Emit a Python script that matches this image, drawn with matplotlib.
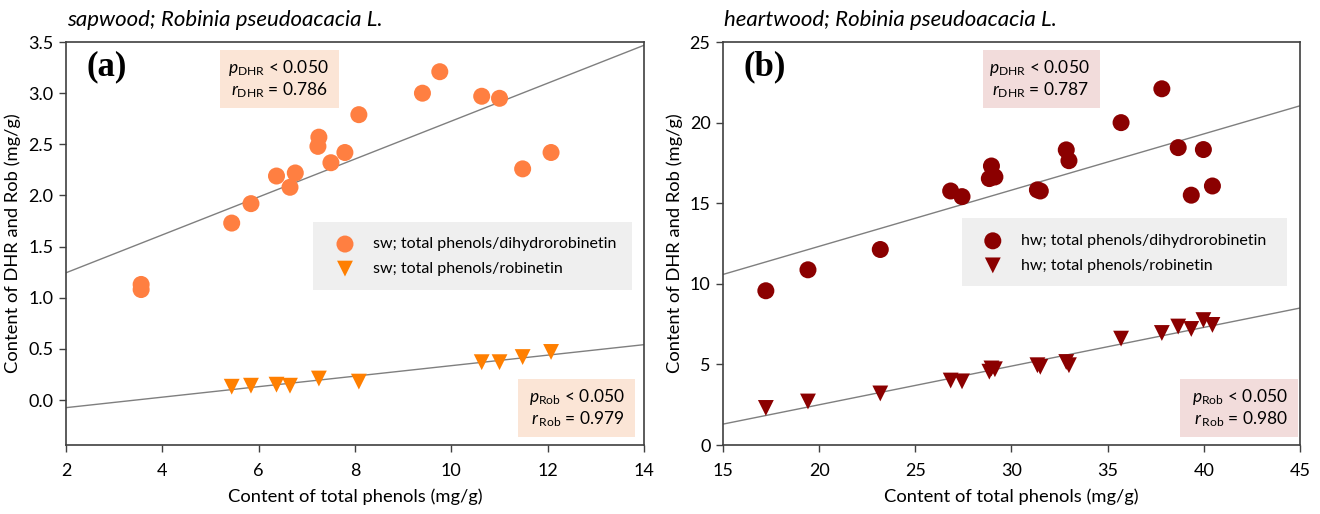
import numpy as np
import matplotlib
matplotlib.use("Agg")
import matplotlib.pyplot as plt
from matplotlib.patches import Rectangle

plt.rcParams["font.family"] = ["Lato", "DejaVu Sans"]
plt.rcParams["mathtext.fontset"] = "custom"
plt.rcParams["mathtext.rm"] = "Lato"
plt.rcParams["mathtext.it"] = "Lato:italic"

# ---- data ----
sw_phenols_dhr = [3.56, 3.56, 5.44, 5.84, 6.37, 6.65, 6.76, 7.23, 7.25, 7.50, 7.79, 8.08,
                  9.40, 9.76, 10.63, 11.00, 11.48, 12.07]
sw_dhr = [1.13, 1.08, 1.73, 1.92, 2.19, 2.08, 2.22, 2.48, 2.57, 2.32, 2.42, 2.79,
          3.00, 3.21, 2.97, 2.95, 2.26, 2.42]
sw_phenols_rob = [5.44, 5.84, 6.37, 6.65, 7.25, 8.08, 10.63, 11.00, 11.48, 12.07]
sw_rob = [0.13, 0.14, 0.15, 0.14, 0.21, 0.18, 0.37, 0.37, 0.42, 0.47]

hw_phenols = [17.23, 19.42, 23.18, 26.84, 27.43, 28.85, 28.96, 29.14, 31.35, 31.50,
              32.85, 32.99, 35.70, 37.82, 38.67, 39.35, 39.98, 40.45]
hw_dhr = [9.57, 10.87, 12.13, 15.76, 15.41, 16.53, 17.31, 16.63, 15.83, 15.76,
          18.31, 17.64, 20.00, 22.10, 18.45, 15.50, 18.33, 16.07]
hw_rob = [2.30, 2.70, 3.20, 4.00, 3.95, 4.55, 4.75, 4.70, 4.95, 4.85,
          5.15, 4.95, 6.60, 6.95, 7.35, 7.20, 7.75, 7.45]

stats_sw = {"DHR": ("< 0.050", "0.786"), "Rob": ("< 0.050", "0.979")}
stats_hw = {"DHR": ("< 0.050", "0.787"), "Rob": ("< 0.050", "0.980")}

C_SW_DHR = "#ff7f41"
C_SW_ROB = "#ff7f00"
C_HW = "#8b0000"
BOX_SW = "#fbe5d6"
BOX_HW = "#f2dcdb"
LEG_BG = "#efefef"
FS = 13.2      # axis labels
FS_TICK = 13
FS_BOX = 12.5
FS_LEG = 11.5
FS_TITLE = 16

fig = plt.figure(figsize=(13.2, 5.14), dpi=100)
ax1 = fig.add_axes([0.05, 0.1342, 0.4379, 0.784])
ax2 = fig.add_axes([0.5477, 0.1342, 0.4371, 0.784])


def fit_line(ax, x, y, xlim):
    k, b = np.polyfit(x, y, 1)
    xx = np.array(xlim)
    ax.plot(xx, k * xx + b, color="#7f7f7f", lw=1.0, zorder=1)


def stat_box(ax, x0, y0, x1, y1, color, key, p, r):
    ax.add_patch(Rectangle((x0, y0), x1 - x0, y1 - y0, transform=ax.transAxes,
                           facecolor=color, edgecolor="none", zorder=0.5))
    gap = r"\," if key == "Rob" else ""
    txt = (r"$p_{\mathrm{%s}}$ %s" % (key, p) + "\n" +
           r"$r_{%s\mathrm{%s}}$ = %s" % (gap, key, r))
    ax.text(x1 - 0.03 * (x1 - x0) - 0.012, (y0 + y1) / 2, txt, transform=ax.transAxes,
            ha="right", va="center", multialignment="right", fontsize=FS_BOX,
            linespacing=1.15, zorder=3)


def style(ax, xlim, ylim, xticks, yticks, fmt):
    ax.set_xlim(xlim)
    ax.set_ylim(ylim)
    ax.set_xticks(xticks)
    ax.set_yticks(yticks)
    ax.set_yticklabels([fmt.format(v) for v in yticks])
    ax.tick_params(direction="out", length=5, width=1, labelsize=FS_TICK, color="#404040", pad=4)
    ax.tick_params(axis="x", pad=8)
    for s in ax.spines.values():
        s.set_color("#404040")
        s.set_linewidth(1.2)
    ax.set_xlabel("Content of total phenols (mg/g)", fontsize=FS, labelpad=7)
    ax.set_ylabel("Content of DHR and Rob (mg/g)", fontsize=FS, labelpad=5)


def legend_panel(ax, x0, y0, w, h, anchor):
    ax.add_patch(Rectangle((x0, y0), w, h, transform=ax.transAxes,
                           facecolor=LEG_BG, edgecolor="none", zorder=0.5))
    ax.legend(loc="center left", bbox_to_anchor=anchor, frameon=False, fontsize=FS_LEG,
              handletextpad=0.75, labelspacing=0.65, borderpad=0, borderaxespad=0)


# ---- (a) sapwood ----
xl1 = (2, 14)
fit_line(ax1, sw_phenols_dhr, sw_dhr, xl1)
fit_line(ax1, sw_phenols_rob, sw_rob, xl1)
ax1.scatter(sw_phenols_dhr, sw_dhr, s=150, marker="o", color=C_SW_DHR, edgecolors="none",
            zorder=3, label="sw; total phenols/dihydrorobinetin")
ax1.scatter(sw_phenols_rob, sw_rob, s=130, marker="v", color=C_SW_ROB, edgecolors="none",
            zorder=3, label="sw; total phenols/robinetin")
style(ax1, xl1, (-0.44, 3.5), np.arange(2, 15, 2), np.arange(0, 3.51, 0.5), "{:.1f}")
stat_box(ax1, 0.266, 0.836, 0.472, 0.980, BOX_SW, "DHR", *stats_sw["DHR"])
stat_box(ax1, 0.782, 0.020, 0.984, 0.164, BOX_SW, "Rob", *stats_sw["Rob"])
legend_panel(ax1, 0.427, 0.385, 0.552, 0.168, (0.455, 0.468))
ax1.text(0.035, 0.98, "(a)", transform=ax1.transAxes, ha="left", va="top",
         family="Liberation Serif", weight="bold", fontsize=25)
ax1.text(0.002, 1.03, "sapwood; Robinia pseudoacacia L.", transform=ax1.transAxes,
         ha="left", va="bottom", style="italic", fontsize=FS_TITLE)

# ---- (b) heartwood ----
xl2 = (15, 45)
fit_line(ax2, hw_phenols, hw_dhr, xl2)
fit_line(ax2, hw_phenols, hw_rob, xl2)
ax2.scatter(hw_phenols, hw_dhr, s=150, marker="o", color=C_HW, edgecolors="none",
            zorder=3, label="hw; total phenols/dihydrorobinetin")
ax2.scatter(hw_phenols, hw_rob, s=130, marker="v", color=C_HW, edgecolors="none",
            zorder=3, label="hw; total phenols/robinetin")
style(ax2, xl2, (0, 25), np.arange(15, 46, 5), np.arange(0, 26, 5), "{:.0f}")
stat_box(ax2, 0.451, 0.836, 0.653, 0.980, BOX_HW, "DHR", *stats_hw["DHR"])
stat_box(ax2, 0.792, 0.020, 0.997, 0.164, BOX_HW, "Rob", *stats_hw["Rob"])
legend_panel(ax2, 0.414, 0.395, 0.563, 0.168, (0.44, 0.476))
ax2.text(0.035, 0.98, "(b)", transform=ax2.transAxes, ha="left", va="top",
         family="Liberation Serif", weight="bold", fontsize=25)
ax2.text(0.002, 1.03, "heartwood; Robinia pseudoacacia L.", transform=ax2.transAxes,
         ha="left", va="bottom", style="italic", fontsize=FS_TITLE)

fig.savefig("out.png", dpi=100)
